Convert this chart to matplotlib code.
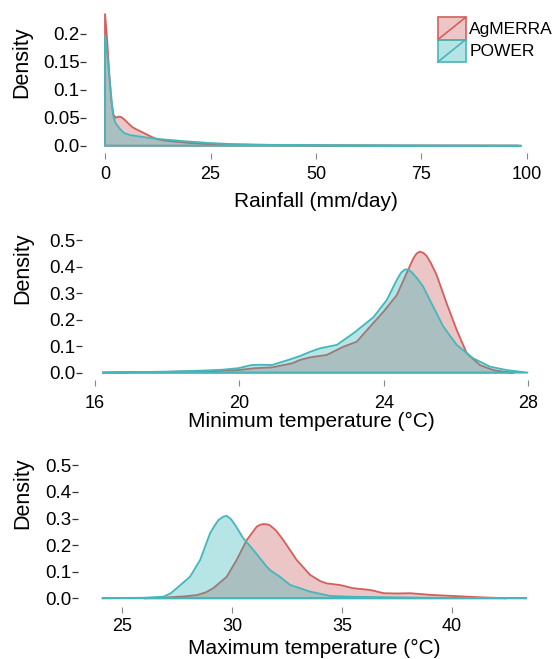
import matplotlib
matplotlib.use("Agg")
import matplotlib.pyplot as plt
from matplotlib.patches import Patch, Rectangle
from matplotlib.lines import Line2D
from matplotlib.legend_handler import HandlerBase

plt.rcParams["font.family"] = ["Liberation Sans", "DejaVu Sans"]

# ---- data (x value, density) ----
rain_ag_x = [0, 0, 0.5, 1.0, 1.5, 2.0, 2.6, 3.2, 3.9, 4.7, 5.5, 6.5, 7.5, 8.3, 9.4,
             10.7, 12.2, 14.2, 17, 20, 25, 30, 40, 55, 70, 98]
rain_ag_y = [0, 0.236, 0.19, 0.13, 0.08, 0.055, 0.05, 0.052, 0.051, 0.046, 0.04, 0.033,
             0.029, 0.026, 0.022, 0.017, 0.012, 0.009, 0.007, 0.005, 0.003, 0.002,
             0.001, 0.0005, 0.0002, 0]
rain_pw_x = [0, 0, 0.7, 1.2, 1.9, 2.4, 3.1, 3.9, 4.7, 6.0, 7.8, 9.5, 11.8, 14.2, 19,
             24.4, 30, 40, 55, 70, 98.7]
rain_pw_y = [0, 0.199, 0.15, 0.11, 0.055, 0.042, 0.034, 0.027, 0.022, 0.019, 0.017,
             0.015, 0.013, 0.011, 0.008, 0.005, 0.003, 0.0015, 0.0007, 0.0003, 0]

tmin_ag_x = [16.2, 17, 18, 19, 19.5, 19.97, 20.43, 20.9, 21.45, 21.68, 21.96, 22.42,
             22.88, 23.25, 23.62, 23.99, 24.36, 24.63, 24.82, 24.91, 25.0, 25.1, 25.19,
             25.3, 25.46, 25.74, 26.02, 26.3, 26.66, 27.03, 27.4, 27.6]
tmin_ag_y = [0, 0.002, 0.003, 0.006, 0.008, 0.01, 0.017, 0.02, 0.035, 0.048, 0.058,
             0.067, 0.098, 0.117, 0.174, 0.23, 0.293, 0.375, 0.432, 0.45, 0.457, 0.452,
             0.44, 0.415, 0.37, 0.262, 0.161, 0.073, 0.029, 0.01, 0.002, 0]
tmin_pw_x = [16.2, 17, 18, 19, 19.5, 19.97, 20.34, 20.6, 20.9, 21.35, 21.68, 21.96,
             22.23, 22.7, 23.16, 23.71, 24.08, 24.36, 24.48, 24.59, 24.68, 24.77, 24.92,
             25.09, 25.37, 25.65, 26.02, 26.48, 26.94, 27.4, 28.0]
tmin_pw_y = [0, 0.002, 0.004, 0.008, 0.011, 0.017, 0.029, 0.03, 0.029, 0.048, 0.063,
             0.079, 0.092, 0.105, 0.149, 0.209, 0.274, 0.35, 0.378, 0.39, 0.389, 0.38,
             0.357, 0.325, 0.249, 0.174, 0.105, 0.054, 0.023, 0.01, 0]

tmax_ag_x = [26.0, 27.0, 27.8, 28.4, 28.8, 29.15, 29.76, 30.21, 30.67, 31.12, 31.27,
             31.42, 31.6, 31.73, 32.0, 32.33, 32.94, 33.55, 34.0, 34.3, 34.9, 35.5,
             36.3, 36.9, 37.5, 38.1, 39.0, 40.2, 41.2, 42.5]
tmax_ag_y = [0, 0.003, 0.007, 0.012, 0.022, 0.038, 0.081, 0.144, 0.219, 0.269, 0.276,
             0.279, 0.278, 0.274, 0.255, 0.219, 0.144, 0.088, 0.065, 0.056, 0.05, 0.038,
             0.031, 0.019, 0.018, 0.019, 0.013, 0.008, 0.004, 0]
tmax_pw_x = [24.08, 25, 26, 26.88, 27.2, 27.49, 28.09, 28.55, 29.0, 29.2, 29.38, 29.6,
             29.76, 29.95, 30.14, 30.51, 30.97, 31.58, 31.73, 32.18, 32.64, 33.09, 33.55,
             34.45, 35.3, 37, 39, 41, 43.4]
tmax_pw_y = [0, 0.001, 0.002, 0.006, 0.018, 0.038, 0.081, 0.144, 0.244, 0.272, 0.294,
             0.307, 0.31, 0.298, 0.276, 0.226, 0.182, 0.119, 0.106, 0.081, 0.05, 0.038,
             0.025, 0.009, 0.006, 0.004, 0.002, 0.001, 0]

series_names = ["AgMERRA", "POWER"]
rain_xticks = [0, 25, 50, 75, 100]
rain_yticks = [0.0, 0.05, 0.1, 0.15, 0.2]
rain_ylabels = ["0.0", "0.05", "0.1", "0.15", "0.2"]
temp_yticks = [0.0, 0.1, 0.2, 0.3, 0.4, 0.5]
temp_ylabels = ["0.0", "0.1", "0.2", "0.3", "0.4", "0.5"]
tmin_xticks = [16, 20, 24, 28]
tmax_xticks = [25, 30, 35, 40]

fill_cols = ["#C95C5C", "#31B2B5"]
line_cols = ["#D45F5A", "#45B7BB"]
W, H = 554, 659


class SquareDiag(HandlerBase):
    def create_artists(self, legend, orig_handle, xdescent, ydescent,
                       width, height, fontsize, trans):
        x0, y0 = -xdescent, -ydescent
        r = Rectangle((x0, y0), width, height, facecolor=orig_handle.get_facecolor(),
                      edgecolor=orig_handle.get_edgecolor(), lw=1.2, transform=trans)
        l = Line2D([x0, x0 + width], [y0, y0 + height],
                   color=orig_handle.get_edgecolor(), lw=1.2, transform=trans)
        return [r, l]


def make_axes(fig, box):
    l, t, r, b = box
    return fig.add_axes([l / W, 1 - b / H, (r - l) / W, (b - t) / H])


def style(ax, left_out, bottom_out, xpad):
    for s in ["top", "right"]:
        ax.spines[s].set_visible(False)
    ax.spines["left"].set_position(("outward", left_out * 0.72))
    ax.spines["bottom"].set_position(("outward", bottom_out * 0.72))
    ax.spines["left"].set_visible(False)
    ax.spines["bottom"].set_visible(False)
    ax.tick_params(axis="y", length=4, width=0.9, color="#333333", pad=0.5,
                   labelsize=13.5)
    ax.tick_params(axis="x", length=4, width=0.8, color="#888888", pad=xpad,
                   labelsize=13)


def draw(ax, xs, ys):
    for x, y, fc, lc in zip(xs, ys, fill_cols, line_cols):
        ax.fill(x, y, facecolor=fc, alpha=0.35, edgecolor="none", clip_on=False)
        ax.fill(x, y, facecolor="none", edgecolor=lc, lw=1.3, clip_on=False)


fig = plt.figure(figsize=(W / 100, H / 100), dpi=100)

# rainfall
ax1 = make_axes(fig, (102.9, 11.3, 529.1, 147.4))
draw(ax1, [rain_ag_x, rain_pw_x], [rain_ag_y, rain_pw_y])
ax1.set_xlim(-0.5, 100.5)
ax1.set_ylim(-0.003, 0.24)
ax1.set_xticks(rain_xticks)
ax1.set_yticks(rain_yticks)
ax1.set_yticklabels(rain_ylabels)
style(ax1, 17, 5.6, 5)
ax1.set_xlabel("Rainfall (mm/day)", fontsize=15)
ax1.xaxis.label.set_va("center")
ax1.xaxis.set_label_coords(0.5, -0.401)
ax1.set_ylabel("Density", fontsize=15.5)
ax1.yaxis.label.set_va("center")
ax1.yaxis.set_label_coords(-0.19, 0.627)
handles = [Patch(facecolor=(0.79, 0.36, 0.36, 0.35), edgecolor=line_cols[0]),
           Patch(facecolor=(0.19, 0.70, 0.71, 0.35), edgecolor=line_cols[1])]
ax1.legend(handles, series_names, handler_map={Patch: SquareDiag()},
           loc="upper left", bbox_to_anchor=(0.786, 0.956), frameon=False,
           fontsize=12.5, handlelength=1.6, handleheight=1.6, labelspacing=0,
           handletextpad=0.2, borderpad=0, borderaxespad=0)

# minimum temperature
ax2 = make_axes(fig, (91.4, 238.9, 531.8, 374.8))
draw(ax2, [tmin_ag_x, tmin_pw_x], [tmin_ag_y, tmin_pw_y])
ax2.set_xlim(15.9, 28.1)
ax2.set_ylim(-0.008, 0.505)
ax2.set_xticks(tmin_xticks)
ax2.set_yticks(temp_yticks)
ax2.set_yticklabels(temp_ylabels)
style(ax2, 9.4, 5.2, 6.5)
ax2.set_xlabel("Minimum temperature (°C)", fontsize=15)
ax2.xaxis.label.set_va("center")
ax2.xaxis.set_label_coords(0.5, -0.345)
ax2.set_ylabel("Density", fontsize=15.5)
ax2.yaxis.label.set_va("center")
ax2.yaxis.set_label_coords(-0.155, 0.786)

# maximum temperature
ax3 = make_axes(fig, (100, 464, 529, 600.4))
draw(ax3, [tmax_ag_x, tmax_pw_x], [tmax_ag_y, tmax_pw_y])
ax3.set_xlim(24.0, 43.5)
ax3.set_ylim(-0.008, 0.505)
ax3.set_xticks(tmax_xticks)
ax3.set_yticks(temp_yticks)
ax3.set_yticklabels(temp_ylabels)
style(ax3, 22, 6.6, 3.6)
ax3.set_xlabel("Maximum temperature (°C)", fontsize=15)
ax3.xaxis.label.set_va("center")
ax3.xaxis.set_label_coords(0.5, -0.349)
ax3.set_ylabel("Density", fontsize=15.5)
ax3.yaxis.label.set_va("center")
ax3.yaxis.set_label_coords(-0.179, 0.787)

fig.savefig("out.png", dpi=100)
